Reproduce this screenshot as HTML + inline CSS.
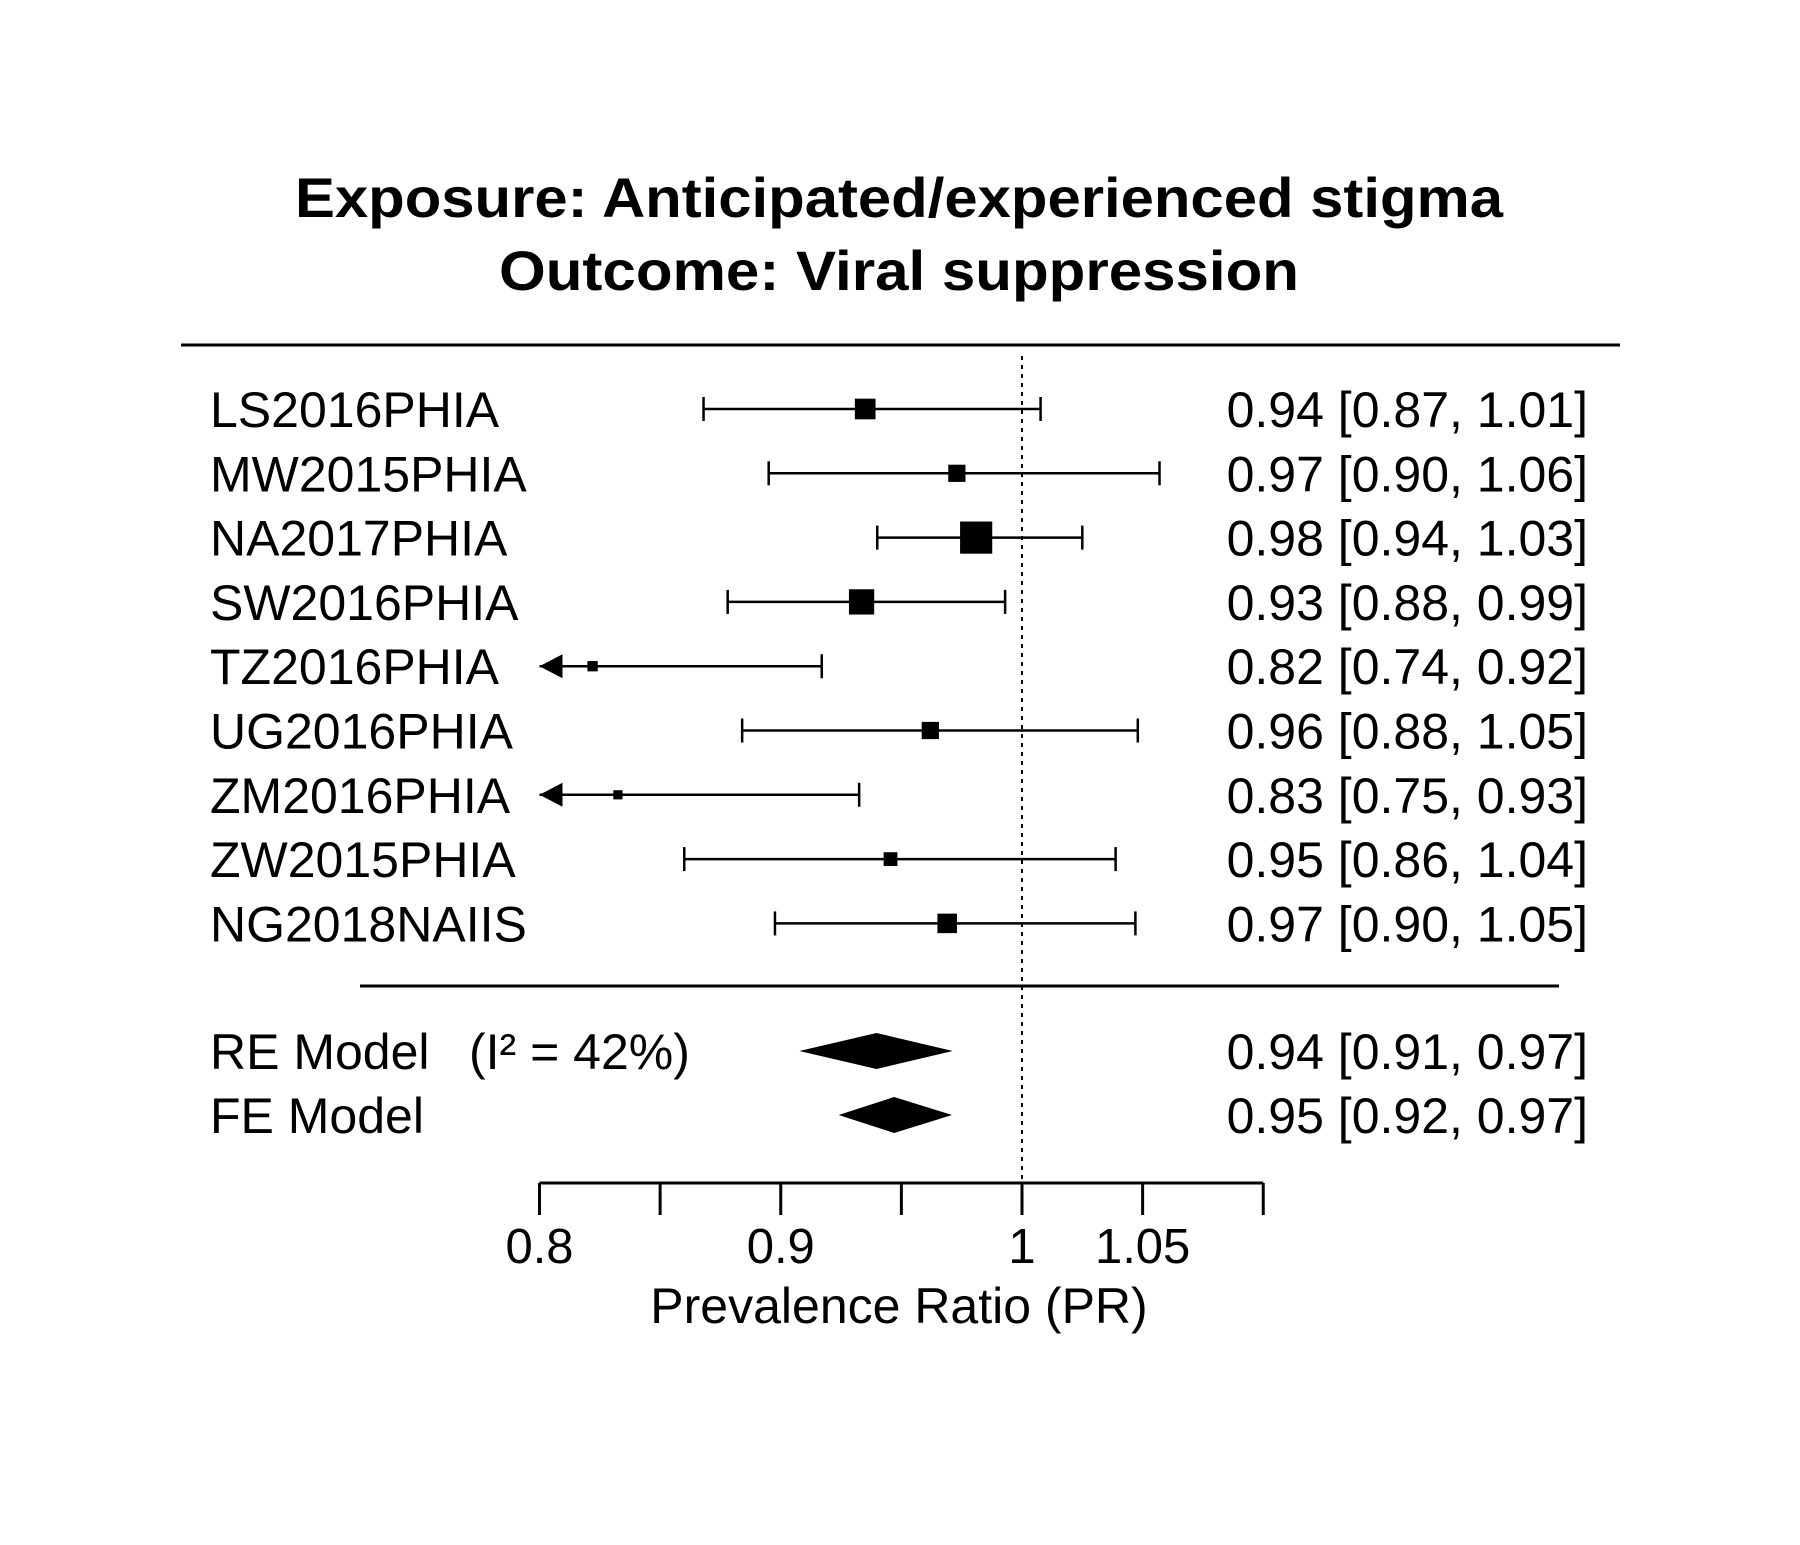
<!DOCTYPE html>
<html><head><meta charset="utf-8"><style>
html,body{margin:0;padding:0;background:#fff;}
svg{display:block;font-family:"Liberation Sans",Arial,sans-serif;}
</style></head><body>
<svg id="chart" width="1800" height="1545" viewBox="0 0 1800 1545" xmlns="http://www.w3.org/2000/svg">
<rect width="1800" height="1545" fill="#fff"/>
<text x="899" y="217" text-anchor="middle" font-size="56" font-weight="bold" textLength="1208" lengthAdjust="spacingAndGlyphs">Exposure: Anticipated/experienced stigma</text>
<text x="899" y="290" text-anchor="middle" font-size="56" font-weight="bold" textLength="800" lengthAdjust="spacingAndGlyphs">Outcome: Viral suppression</text>
<line x1="181" y1="345" x2="1620" y2="345" stroke="#000" stroke-width="3"/>
<line x1="360" y1="986" x2="1559" y2="986" stroke="#000" stroke-width="3"/>
<g id="marks"></g>
</svg>
<script>
const studies = ["LS2016PHIA","MW2015PHIA","NA2017PHIA","SW2016PHIA","TZ2016PHIA","UG2016PHIA","ZM2016PHIA","ZW2015PHIA","NG2018NAIIS"];
const estimates = [0.935,0.973,0.981,0.9335,0.822,0.962,0.8325,0.9455,0.969];
const lowers = [0.868,0.895,0.940,0.878,0.74,0.884,0.75,0.860,0.8976];
const uppers = [1.0077,1.057,1.025,0.993,0.917,1.048,0.9325,1.0388,1.047];
const weights = [18,15,28,22,9,15,8,12,17];
const printed = ["0.94 [0.87, 1.01]","0.97 [0.90, 1.06]","0.98 [0.94, 1.03]","0.93 [0.88, 0.99]","0.82 [0.74, 0.92]","0.96 [0.88, 1.05]","0.83 [0.75, 0.93]","0.95 [0.86, 1.04]","0.97 [0.90, 1.05]"];
const models = ["RE Model","FE Model"];
const modelEst = [0.9397,0.947];
const modelLo = [0.9077,0.924];
const modelHi = [0.9713,0.971];
const modelPrinted = ["0.94 [0.91, 0.97]","0.95 [0.92, 0.97]"];
const tickValues = [0.8,0.85,0.9,0.95,1,1.05,1.1];
const tickLabels = ["0.8","","0.9","","1","1.05",""];

const NS="http://www.w3.org/2000/svg";
const g=document.getElementById('marks');
const xMin=0.8, xMax=1.1;
function x(v){return 539.5+(v-0.8)*2412.5;}
function rowY(i){return 409+64.3*i;}
function el(t,a){const e=document.createElementNS(NS,t);for(const k in a)e.setAttribute(k,a[k]);g.appendChild(e);return e;}

const ref=el('line',{x1:x(1),y1:356,x2:x(1),y2:1183,stroke:'#000','stroke-width':2,'stroke-dasharray':'4,5'});



studies.forEach((s,i)=>{
  const y=rowY(i);
  const lab=el('text',{x:210,y:y+18,'font-size':50});
  lab.textContent=s;
  
  
  const lo=Math.max(lowers[i],xMin);
  const ci=el('line',{x1:x(lo),y1:y,x2:x(uppers[i]),y2:y,stroke:'#000','stroke-width':2.5});
  
  
  const cap=el('line',{x1:x(uppers[i]),y1:y-12,x2:x(uppers[i]),y2:y+12,stroke:'#000','stroke-width':2.5});
  
  
  if(lowers[i]<xMin){
    const ar=el('polygon',{points:`${x(xMin)},${y} ${x(xMin)+23},${y-12} ${x(xMin)+23},${y+12}`,fill:'#000'});
    
    
  } else {
    const cap2=el('line',{x1:x(lo),y1:y-12,x2:x(lo),y2:y+12,stroke:'#000','stroke-width':2.5});
    
    
  }
  const sz=weights[i]*1.148;
  const sq=el('rect',{x:x(estimates[i])-sz/2,y:y-sz/2,width:sz,height:sz,fill:'#000'});
  
  
  const t=el('text',{x:1588,y:y+18,'font-size':50,'text-anchor':'end'});
  t.textContent=printed[i];
  
  
});

models.forEach((m,i)=>{
  const y=[1051,1115][i];
  const lab=el('text',{x:210,y:y+18,'font-size':50});
  lab.textContent=m;
  
  
  const d=el('polygon',{points:`${x(modelLo[i])},${y} ${x(modelEst[i])},${y-18} ${x(modelHi[i])},${y} ${x(modelEst[i])},${y+18}`,fill:'#000'});
  
  
  const t=el('text',{x:1588,y:y+18,'font-size':50,'text-anchor':'end'});
  t.textContent=modelPrinted[i];
  
  
});
const i2=el('text',{x:469,y:1069,'font-size':50});
i2.textContent='(I² = 42%)';



const ax=el('line',{x1:x(xMin),y1:1183,x2:x(xMax),y2:1183,stroke:'#000','stroke-width':3});


tickValues.forEach((v,i)=>{
  const tk=el('line',{x1:x(v),y1:1183,x2:x(v),y2:1215,stroke:'#000','stroke-width':3});
  
  
  if(tickLabels[i]){
    const tl=el('text',{x:x(v),y:1263,'font-size':49,'text-anchor':'middle'});
    tl.textContent=tickLabels[i];
    
    
  }
});
const xt=el('text',{x:899,y:1323,'font-size':50,'text-anchor':'middle'});
xt.textContent='Prevalence Ratio (PR)';


</script>
</body></html>
